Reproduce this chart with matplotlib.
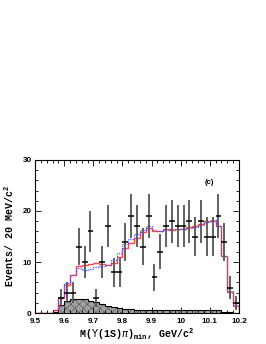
import matplotlib
matplotlib.use("Agg")
import matplotlib.pyplot as plt
import numpy as np
from matplotlib.ticker import MultipleLocator

# bin edges: 20 MeV bins, 9.50 - 10.20
edges = np.round(np.arange(9.50, 10.2001, 0.02), 2)

# data points (bin centres 9.59 ... 10.19)
data_x = np.round(np.arange(9.59, 10.1901, 0.02), 2)
data_y = [3, 4, 4, 13, 10, 16, 3, 10, 17, 8, 8, 14, 19, 17, 13, 19, 7, 12,
          17, 18, 17, 17, 18, 15, 18, 15, 15, 19, 14, 5, 2]

# fit curves per bin (35 bins)
fit_red = [0, 0, 0, 0.6, 3.0, 5.5, 7.5, 9.3, 9.5, 9.7, 9.9, 9.7, 9.5, 9.8,
           11.0, 12.7, 13.7, 14.8, 15.8, 16.6, 16.0, 16.0, 16.4, 16.3, 16.4,
           16.4, 16.9, 17.1, 17.4, 18.0, 18.1, 17.1, 11.2, 4.2, 1.4]
fit_blue = [0, 0, 0, 0.6, 3.2, 5.8, 7.4, 8.9, 8.5, 8.7, 9.0, 9.3, 9.4, 10.4,
            11.8, 13.5, 14.6, 15.5, 16.3, 17.0, 16.2, 16.1, 16.3, 16.4, 16.4,
            16.5, 16.7, 16.9, 17.2, 17.8, 18.2, 17.1, 11.2, 4.3, 1.6]
bkg = [0, 0, 0, 0.3, 1.5, 2.4, 2.8, 2.8, 2.7, 2.4, 2.1, 1.7, 1.4, 1.1,
       0.9, 0.8, 0.7, 0.6, 0.6, 0.55, 0.55, 0.55, 0.55, 0.55, 0.55, 0.55,
       0.55, 0.55, 0.55, 0.55, 0.55, 0.5, 0.3, 0.2, 0.1]

fig = plt.figure(figsize=(2.66, 3.44), dpi=100)
ax = fig.add_axes([0.132, 0.090, 0.766, 0.445])

plt.rcParams["hatch.linewidth"] = 0.4
ax.stairs(bkg, edges, fill=True, facecolor="#a0a0a0", edgecolor="#505050",
          hatch="xxxx", lw=0)
ax.stairs(bkg, edges, color="black", lw=0.8)
ax.stairs(fit_red, edges, color="#ff4848", lw=1.0)
ax.stairs(fit_blue, edges, color="#5050ff", lw=0.9, ls=(0, (1, 1)))

# gray-ish vertical bars, black horizontal bars
ax.errorbar(data_x, data_y, yerr=np.sqrt(data_y), fmt="none",
            ecolor="#555555", elinewidth=1.3, capsize=0)
ax.errorbar(data_x, data_y, xerr=0.01, fmt="none",
            ecolor="black", elinewidth=1.1, capsize=0)

ax.set_xlim(9.5, 10.2)
ax.set_ylim(0, 30)
ax.xaxis.set_major_locator(MultipleLocator(0.1))
ax.xaxis.set_minor_locator(MultipleLocator(0.02))
ax.yaxis.set_major_locator(MultipleLocator(10))
ax.yaxis.set_minor_locator(MultipleLocator(2))
ax.tick_params(which="both", direction="in", top=True, right=True,
               width=0.6, labelsize=5.8)
ax.tick_params(axis="x", pad=3.5)
ax.tick_params(axis="y", pad=2.5)
ax.tick_params(which="major", length=4)
ax.tick_params(which="minor", length=2)
ax.set_xticks([9.5, 9.6, 9.7, 9.8, 9.9, 10.0, 10.1, 10.2])
ax.set_xticklabels(["9.5", "9.6", "9.7", "9.8", "9.9", "10", "10.1", "10.2"])
for lab in ax.get_xticklabels() + ax.get_yticklabels():
    lab.set_fontweight("bold")
    lab.set_family("Liberation Sans")
for sp in ax.spines.values():
    sp.set_linewidth(0.8)

ax.text(10.1, 25.6, "(c)", fontsize=5.5, fontweight="bold",
        family="Liberation Sans", ha="center", va="center")

ax.set_xlabel(r"M($\Upsilon$(1S)$\pi$)$_{\mathregular{min}}$, GeV/c$^{\mathregular{2}}$",
              fontsize=7.2, fontweight="bold", family="Liberation Mono",
              labelpad=1)
ax.set_ylabel(r"Events/ 20 MeV/c$^{\mathregular{2}}$", fontsize=7.2,
              fontweight="bold", family="Liberation Mono", labelpad=5)

fig.savefig("out.png", dpi=100)
